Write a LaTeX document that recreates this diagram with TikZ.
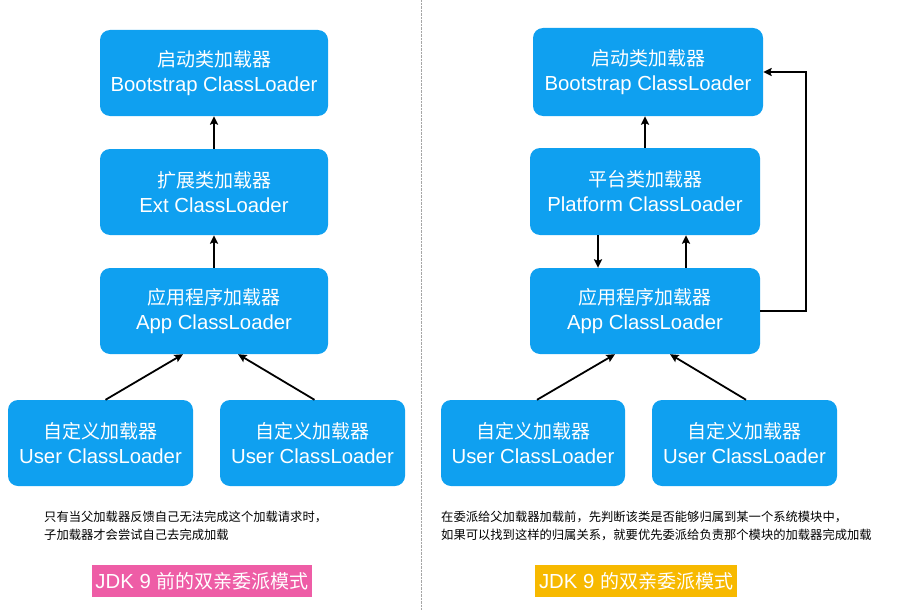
\documentclass[tikz,border=0pt]{standalone}
\usepackage{fontspec}
\setmainfont{Liberation Sans}[Scale=1.07]
\newfontfamily\cjk{Noto Sans CJK SC}
\usetikzlibrary{arrows.meta}
\definecolor{loaderblue}{HTML}{0FA0F0}
\definecolor{tagpink}{HTML}{EE5DA6}
\definecolor{tagyellow}{HTML}{F7B900}
\tikzset{
  loader/.style={fill=loaderblue, rounded corners=10pt, text=white, align=center,
    minimum width=228pt, minimum height=86pt, inner sep=0pt,
    font=\fontsize{19}{25}\selectfont},
  userloader/.style={loader, minimum width=185pt},
  arr/.style={-{Stealth[length=8.5pt,width=8pt,inset=1.5pt]}, line width=1.8pt},
  note/.style={anchor=west, align=left, inner sep=0pt, font=\cjk\fontsize{12.3}{18}\selectfont},
  tag/.style={text=white, minimum height=32pt, inner sep=0pt, font=\fontsize{19}{22}\selectfont}
}
\begin{document}
\begin{tikzpicture}[x=1pt,y=-1pt]
 \useasboundingbox (0,0) rectangle (915,610);
 % divider
 \draw [gray!70, densely dotted] (421,0) -- (421,610);
 % before JDK 9
 \node [loader] (boot) at (214,73) {{\cjk 启动类加载器}\\Bootstrap ClassLoader};
 \node [loader] (ext) at (214,192) {{\cjk 扩展类加载器}\\Ext ClassLoader};
 \node [loader] (app) at (214,311) {{\cjk 应用程序加载器}\\App ClassLoader};
 \node [userloader] (userA) at (100.5,443) {{\cjk 自定义加载器}\\User ClassLoader};
 \node [userloader] (userB) at (312.5,443) {{\cjk 自定义加载器}\\User ClassLoader};
 \draw [arr] (ext) -- (boot);
 \draw [arr] (app) -- (ext);
 \draw [arr] ([xshift=5pt]userA.north) -- ([xshift=-31pt]app.south);
 \draw [arr] ([xshift=2pt]userB.north) -- ([xshift=24pt]app.south);
 \node [note] (noteA) at (44,526) {只有当父加载器反馈自己无法完成这个加载请求时，\\子加载器才会尝试自己去完成加载};
 \node [tag, fill=tagpink, minimum width=220pt] (tagA) at (202,581) {JDK 9 {\cjk 前的双亲委派模式}};
 % JDK 9
 \node [loader, minimum width=230pt, minimum height=88pt] (boot9) at (648,72) {{\cjk 启动类加载器}\\Bootstrap ClassLoader};
 \node [loader, minimum width=230pt, minimum height=87pt] (plat) at (645,191.5) {{\cjk 平台类加载器}\\Platform ClassLoader};
 \node [loader, minimum width=230pt] (app9) at (645,311) {{\cjk 应用程序加载器}\\App ClassLoader};
 \node [userloader, minimum width=184pt] (userC) at (533,443) {{\cjk 自定义加载器}\\User ClassLoader};
 \node [userloader] (userD) at (744.5,443) {{\cjk 自定义加载器}\\User ClassLoader};
 \draw [arr] (plat.north) -- (plat.north |- boot9.south);
 \draw [arr] ([xshift=-47pt]plat.south) -- ([xshift=-47pt]app9.north);
 \draw [arr] ([xshift=41pt]app9.north) -- ([xshift=41pt]plat.south);
 \draw [arr] (app9.east) -- ++(46,0) |- (boot9.east);
 \draw [arr] ([xshift=4pt]userC.north) -- ([xshift=-30pt]app9.south);
 \draw [arr] ([xshift=1.5pt]userD.north) -- ([xshift=25pt]app9.south);
 \node [note] (noteB) at (441,526) {在委派给父加载器加载前，先判断该类是否能够归属到某一个系统模块中，\\如果可以找到这样的归属关系，就要优先委派给负责那个模块的加载器完成加载};
 \node [tag, fill=tagyellow, minimum width=202pt] (tagB) at (636,581) {JDK 9 {\cjk 的双亲委派模式}};
\end{tikzpicture}
\end{document}
